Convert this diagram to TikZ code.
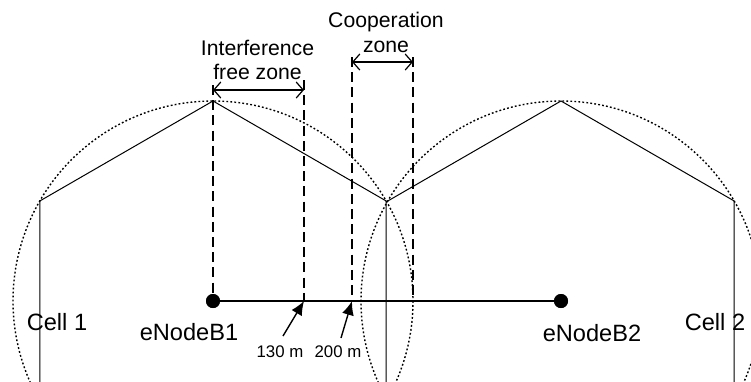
\documentclass[tikz,border=0pt]{standalone}
\usepackage{fontspec}
\setmainfont{Liberation Sans}
\usetikzlibrary{positioning,arrows.meta}

\begin{document}
\begin{tikzpicture}[x=0.5pt, y=-0.5pt, font=\fontsize{11.8}{13}\selectfont,
  bs/.style={circle, fill, inner sep=0pt, minimum size=7pt},
  hexline/.style={line width=0.5pt},
  cellcirc/.style={line width=0.7pt, dash pattern=on 0.9pt off 1.1pt},
  zoneline/.style={line width=0.7pt, dash pattern=on 5pt off 2.6pt},
  zonearrow/.style={line width=0.6pt, {Straight Barb[length=3.5pt,width=8pt]}-{Straight Barb[length=3.5pt,width=8pt]}},
  distarrow/.style={line width=0.7pt, -{Latex[length=7pt,width=6pt]}},
  zonelbl/.style={font=\fontsize{10.6}{12.3}\selectfont, align=center},
  distlbl/.style={font=\fontsize{8.4}{10}\selectfont}]

  \def\R{200}
  \def\hx{173.2}

  \useasboundingbox (0,0) rectangle (751,381);

  % cells: hexagons and dotted circles
  \begin{scope}
    \clip (0,0) rectangle (751,381);
    \draw[cellcirc] (213,301) circle (\R);
    \draw[cellcirc] (561,301) circle (\R);
    \draw[hexline] (213-\hx,401) -- (213-\hx,201) -- (213,101) -- (213+\hx,201) -- (213+\hx,401);
    \draw[hexline] (561-\hx,201) -- (561,101) -- (561+\hx,201) -- (561+\hx,401);
  \end{scope}

  % base stations
  \node[bs] (enb1) at (213,301) {};
  \node[bs] (enb2) at (561,301) {};
  \coordinate (d130) at (304,301);
  \coordinate (d200) at (352,301);

  % zone borders
  \coordinate (ifzL) at (213,85);
  \coordinate (ifzR) at (304,80);
  \coordinate (czL) at (352,57);
  \coordinate (czR) at (413,57);
  \draw[zoneline] (ifzL) -- (enb1.center);
  \draw[zoneline] (ifzR) -- (d130);
  \draw[zoneline] (czL) -- (d200);
  \draw[zoneline] (czR) -- (413,301);

  \draw[line width=0.8pt] (enb1) -- (enb2);
  \node[bs] at (enb1) {};
  \node[bs] at (enb2) {};

  % zone widths
  \coordinate (ifzA) at (213,90);
  \coordinate (ifzB) at (304,90);
  \coordinate (czA) at (352,62);
  \coordinate (czB) at (413,62);
  \draw[zonearrow] (ifzA) -- (ifzB);
  \draw[zonearrow] (czA) -- (czB);

  \node[zonelbl] (ifz) at (257.5,60) {Interference\\free zone};
  \node[zonelbl] (cz) at (386,32.5) {Cooperation\\zone};

  % labels
  \node (cell1) at (57,322) {Cell 1};
  \node (cell2) at (715,322) {Cell 2};
  \node (lenb1) at (189,332) {eNodeB1};
  \node (lenb2) at (592,333) {eNodeB2};

  % distances
  \node[distlbl] (l130) at (280,352) {130 m};
  \node[distlbl] (l200) at (338,352) {200 m};
  \coordinate (t130) at (283,336);
  \coordinate (t200) at (341,338);
  \draw[distarrow] (t130) -- (d130);
  \draw[distarrow] (t200) -- (d200);

\end{tikzpicture}
\end{document}
